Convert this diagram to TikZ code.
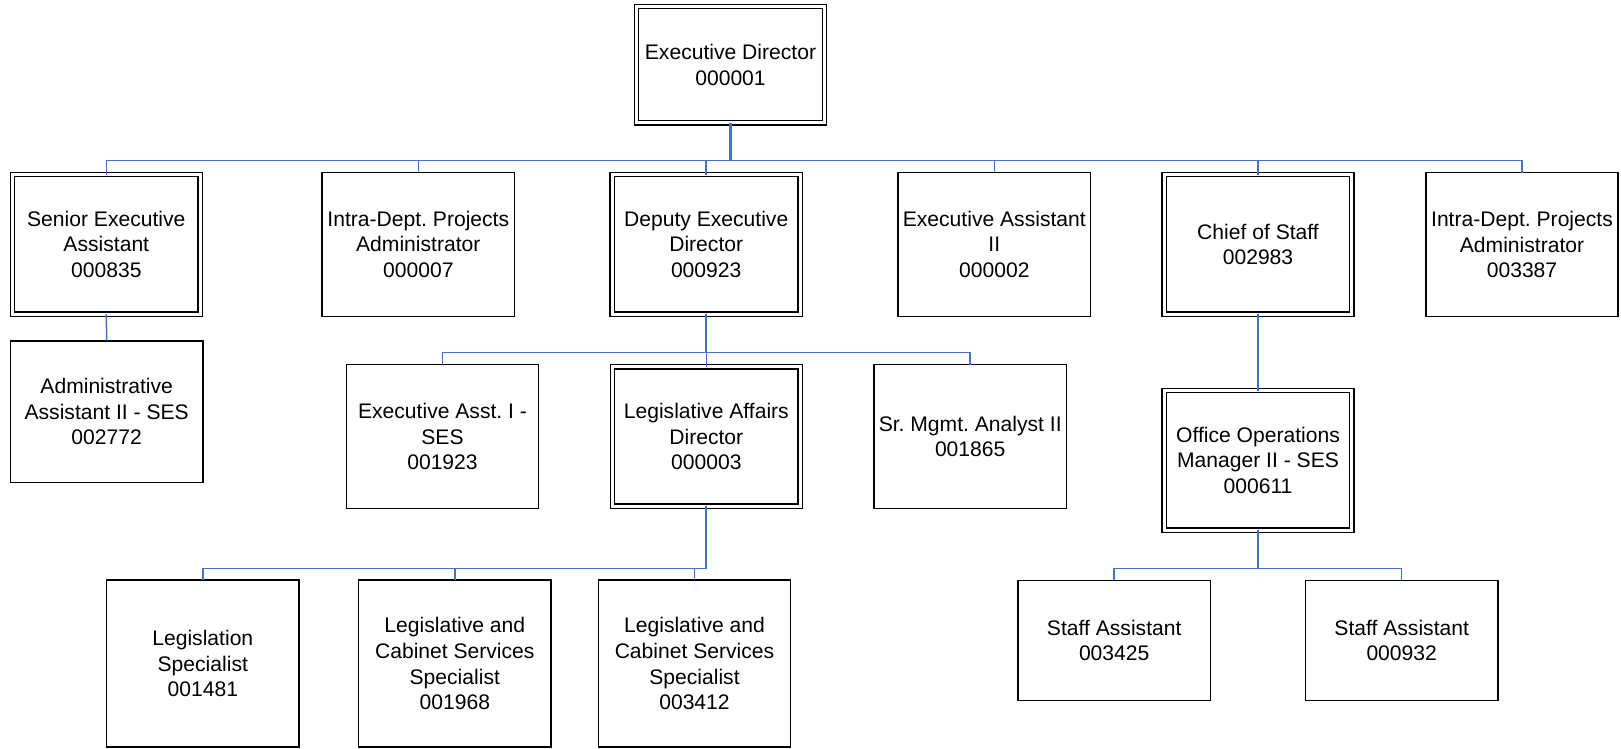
\documentclass[tikz,border=0pt]{standalone}
\usepackage{fontspec}
\setmainfont{Liberation Sans}
\frenchspacing
\definecolor{linkblue}{RGB}{68,114,196}
\begin{document}
\begin{tikzpicture}[x=1pt,y=-1pt,
  every node/.style={inner sep=0pt,outer sep=0pt,align=center,
    font=\fontsize{21.1}{25.7}\selectfont\frenchspacing},
  post/.style={draw=black,line width=1.6pt,minimum width=192.3pt,minimum height=144pt},
  keypost/.style={draw=black,line width=1.3pt,double=white,double distance=3.1pt,
    minimum width=187.8pt,minimum height=139.6pt},
  conn/.style={draw=linkblue,line width=1.5pt},
  trunk/.style={draw=linkblue,line width=2.1pt}]

\useasboundingbox (0,0) rectangle (1621,748);

% top level
\node[keypost,minimum width=188pt,minimum height=116.3pt] (ed) at (730.5,64.7)
  {Executive Director\\000001};

% first tier
\node[keypost] (sea)   at (106.3,244.3) {Senior Executive\\Assistant\\000835};
\node[post]    (ida1)  at (418.3,244.3) {Intra-Dept. Projects\\Administrator\\000007};
\node[keypost] (ded)   at (706.2,244.4) {Deputy Executive\\Director\\000923};
\node[post]    (ea2)   at (994.3,244.3) {Executive Assistant\\II\\000002};
\node[keypost] (cos)   at (1258,244.3)  {Chief of Staff\\002983};
\node[post]    (ida2)  at (1522,244.5)  {Intra-Dept. Projects\\Administrator\\003387};

% second tier
\node[post,minimum height=141.6pt] (aa2) at (106.7,411.5)
  {Administrative\\Assistant II - SES\\002772};
\node[post]    (ea1)   at (442.5,436.5) {Executive Asst. I -\\SES\\001923};
\node[keypost] (lad)   at (706.3,436.5) {Legislative Affairs\\Director\\000003};
\node[post]    (sma)   at (970.2,436.5) {Sr. Mgmt. Analyst II\\001865};
\node[keypost] (oom)   at (1258,460.3)  {Office Operations\\Manager II - SES\\000611};

% third tier
\node[post,minimum height=166.7pt] (ls)   at (202.8,663.6) {Legislation\\Specialist\\001481};
\node[post,minimum height=166.7pt] (lcs1) at (454.8,663.6) {Legislative and\\Cabinet Services\\Specialist\\001968};
\node[post,minimum height=166.7pt] (lcs2) at (694.5,663.6) {Legislative and\\Cabinet Services\\Specialist\\003412};
\node[post,minimum height=120pt]   (sa1)  at (1114.2,640.3) {Staff Assistant\\003425};
\node[post,minimum height=120pt]   (sa2)  at (1401.7,640.3) {Staff Assistant\\000932};

% junction points of the reporting lines
\coordinate (j0) at (730.5,160.3);
\coordinate (j1) at (706.2,352.3);
\coordinate (j2) at (706.3,568.5);
\coordinate (j3) at (1258,568.3);

% executive director's reports
\draw[trunk] (ed.south) -- (j0);
\foreach \n in {sea,ida1,ded,ea2,cos,ida2}
  \draw[conn] (j0) -| (\n.north);

\draw[conn] (sea.south) -- (aa2.north);

% deputy executive director's reports
\draw[trunk] (ded.south) -- (j1);
\foreach \n in {ea1,lad,sma}
  \draw[conn] (j1) -| (\n.north);

% legislative affairs director's reports
\draw[trunk] (lad.south) -- (j2);
\foreach \n in {ls,lcs1,lcs2}
  \draw[conn] (j2) -| (\n.north);

% chief of staff line
\draw[conn] (cos.south) -- (oom.north);
\draw[trunk] (oom.south) -- (j3);
\foreach \n in {sa1,sa2}
  \draw[conn] (j3) -| (\n.north);

\end{tikzpicture}
\end{document}
